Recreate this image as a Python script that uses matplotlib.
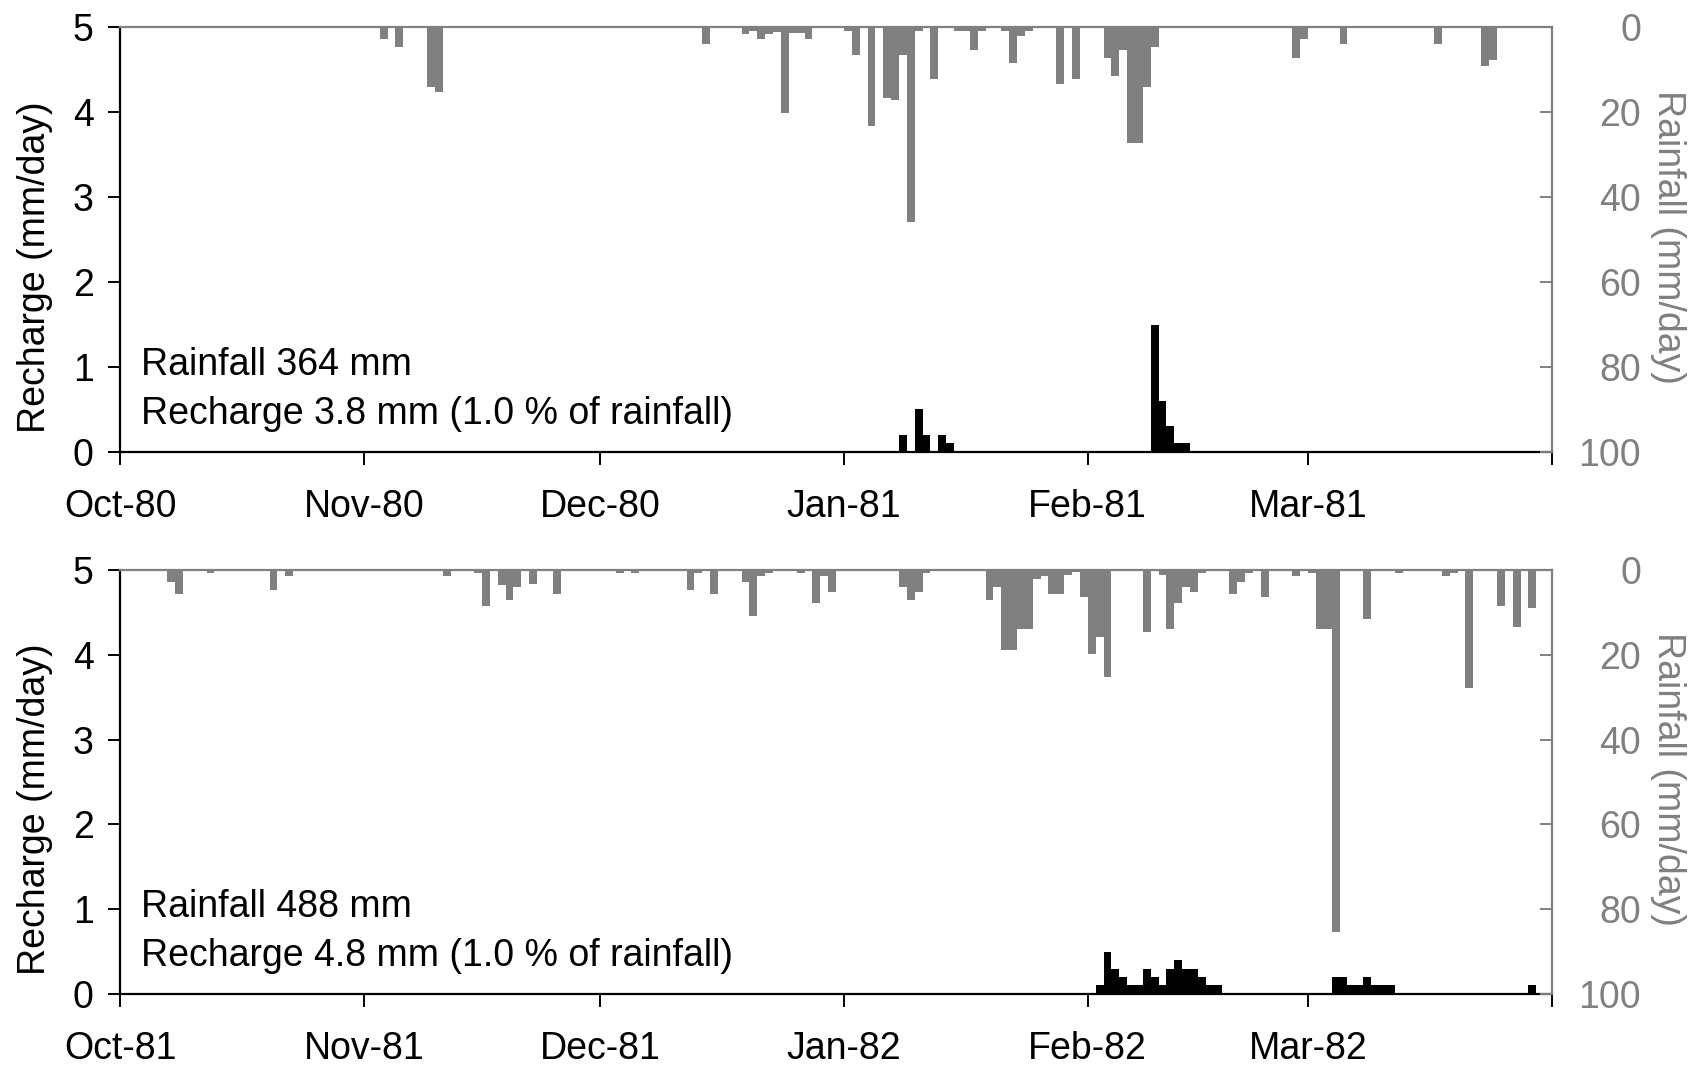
import numpy as np
import pandas as pd
import matplotlib
matplotlib.use("Agg")
import matplotlib.pyplot as plt

plt.rcParams['font.family'] = ['Liberation Sans', 'DejaVu Sans']
plt.rcParams['font.size'] = 27

GREY = "#808080"

# ---- season 1980-81 ----
rain_dates_1 = ["1980-11-03", "1980-11-05", "1980-11-09", "1980-11-10",
                "1980-12-14", "1980-12-19", "1980-12-20", "1980-12-21", "1980-12-22",
                "1980-12-23", "1980-12-24", "1980-12-25", "1980-12-26", "1980-12-27",
                "1981-01-01", "1981-01-02", "1981-01-04", "1981-01-06", "1981-01-07",
                "1981-01-08", "1981-01-09", "1981-01-10", "1981-01-12", "1981-01-15",
                "1981-01-16", "1981-01-17", "1981-01-18", "1981-01-21", "1981-01-22",
                "1981-01-23", "1981-01-24", "1981-01-28", "1981-01-30",
                "1981-02-03", "1981-02-04", "1981-02-05", "1981-02-06", "1981-02-07",
                "1981-02-08", "1981-02-09", "1981-02-27", "1981-02-28",
                "1981-03-05", "1981-03-17", "1981-03-23", "1981-03-24"]
rain_mm_1 = [2.7, 4.7, 14.1, 15.4,
             4.1, 1.6, 1.0, 2.8, 1.6,
             1.2, 20.3, 1.3, 1.3, 2.8,
             0.9, 6.5, 23.4, 16.6, 17.2,
             6.5, 45.9, 0.9, 12.3, 0.9,
             0.9, 5.3, 0.9, 0.9, 8.4,
             2.2, 0.9, 13.5, 12.3,
             7.2, 11.6, 5.3, 27.2, 27.2,
             14.1, 4.7, 7.2, 2.8,
             4.1, 4.1, 9.1, 7.8]
rech_dates_1 = ["1981-01-08", "1981-01-10", "1981-01-11", "1981-01-13", "1981-01-14",
                "1981-02-09", "1981-02-10", "1981-02-11", "1981-02-12", "1981-02-13"]
rech_mm_1 = [0.2, 0.5, 0.2, 0.2, 0.1,
             1.5, 0.6, 0.3, 0.1, 0.1]

# ---- season 1981-82 ----
rain_dates_2 = ["1981-10-07", "1981-10-08", "1981-10-12", "1981-10-20", "1981-10-22",
                "1981-11-11", "1981-11-15", "1981-11-16", "1981-11-18", "1981-11-19",
                "1981-11-20", "1981-11-22", "1981-11-25",
                "1981-12-03", "1981-12-05", "1981-12-12", "1981-12-13", "1981-12-15",
                "1981-12-19", "1981-12-20", "1981-12-21", "1981-12-22", "1981-12-26",
                "1981-12-28", "1981-12-29", "1981-12-30",
                "1982-01-08", "1982-01-09", "1982-01-10", "1982-01-11", "1982-01-19",
                "1982-01-20", "1982-01-21", "1982-01-22", "1982-01-23", "1982-01-24",
                "1982-01-25", "1982-01-26", "1982-01-27", "1982-01-28", "1982-01-29",
                "1982-01-30", "1982-01-31",
                "1982-02-01", "1982-02-02", "1982-02-03", "1982-02-08", "1982-02-10",
                "1982-02-11", "1982-02-12", "1982-02-13", "1982-02-14", "1982-02-15",
                "1982-02-19", "1982-02-20", "1982-02-21", "1982-02-23", "1982-02-27",
                "1982-03-01", "1982-03-02", "1982-03-03", "1982-03-04", "1982-03-08",
                "1982-03-12", "1982-03-18", "1982-03-19", "1982-03-21", "1982-03-25",
                "1982-03-27", "1982-03-29"]
rain_mm_2 = [2.8, 5.7, 0.8, 4.6, 1.4,
             1.4, 0.8, 8.4, 3.4, 7.1,
             3.9, 3.3, 5.7,
             0.8, 0.8, 4.6, 0.6, 5.7,
             2.8, 10.8, 1.4, 0.8, 0.8,
             7.7, 1.4, 5.2,
             3.9, 7.1, 5.2, 0.6, 7.1,
             3.9, 18.9, 18.9, 14.0, 14.0,
             2.0, 1.4, 5.7, 5.7, 1.2,
             0.4, 6.4,
             19.7, 15.9, 25.3, 14.7, 1.2,
             14.0, 7.7, 3.9, 5.2, 0.8,
             5.7, 2.8, 0.8, 6.4, 1.4,
             0.8, 14.0, 14.0, 85.3, 11.6,
             0.8, 1.4, 0.8, 27.9, 8.4,
             13.4, 9.0]
rech_dates_2 = ["1982-02-02", "1982-02-03", "1982-02-04", "1982-02-05", "1982-02-06",
                "1982-02-07", "1982-02-08", "1982-02-09", "1982-02-10", "1982-02-11",
                "1982-02-12", "1982-02-13", "1982-02-14", "1982-02-15", "1982-02-16",
                "1982-02-17",
                "1982-03-04", "1982-03-05", "1982-03-06", "1982-03-07", "1982-03-08",
                "1982-03-09", "1982-03-10", "1982-03-11", "1982-03-29"]
rech_mm_2 = [0.1, 0.5, 0.3, 0.2, 0.1,
             0.1, 0.3, 0.2, 0.1, 0.3,
             0.4, 0.3, 0.3, 0.2, 0.1,
             0.1,
             0.2, 0.2, 0.1, 0.1, 0.2,
             0.1, 0.1, 0.1, 0.1]

season_starts = ["1980-10-01", "1981-10-01"]
rain_totals = [364, 488]
rech_totals = [3.8, 4.8]

panels = [
    (rain_dates_1, rain_mm_1, rech_dates_1, rech_mm_1),
    (rain_dates_2, rain_mm_2, rech_dates_2, rech_mm_2),
]

fig = plt.figure(figsize=(16.96, 10.65), dpi=100)
positions = [[0.0708, 0.5756, 0.8443, 0.399],
             [0.0708, 0.0667, 0.8443, 0.398]]

for i, (rd, rmm, cd, cmm) in enumerate(panels):
    ax = fig.add_axes(positions[i])
    ax2 = ax.twinx()

    start = pd.Timestamp(season_starts[i])
    months = pd.date_range(start, periods=7, freq="MS")

    ax.bar(pd.to_datetime(cd), cmm, width=1, align="edge", color="black", zorder=3)
    ax2.bar(pd.to_datetime(rd), rmm, width=1, align="edge", color=GREY)

    ax.set_xlim(months[0], months[-1])
    ax.set_ylim(0, 5)
    ax2.set_ylim(100, 0)

    ax.set_xticks(months)
    ax.set_xticklabels([m.strftime("%b-%y") for m in months[:-1]] + [""])
    ax.set_yticks(range(0, 6))
    ax2.set_yticks(range(0, 101, 20))

    for s in ["top", "right"]:
        ax.spines[s].set_visible(False)
    for s in ["left", "bottom"]:
        ax2.spines[s].set_visible(False)
    ax.spines["left"].set_linewidth(1.6)
    ax.spines["bottom"].set_linewidth(1.6)
    ax2.spines["top"].set_color(GREY)
    ax2.spines["right"].set_color(GREY)
    ax2.spines["top"].set_linewidth(1.6)
    ax2.spines["right"].set_linewidth(1.6)

    ax.tick_params(axis="x", direction="out", length=9, width=1.4, pad=18, labelsize=27)
    ax.tick_params(axis="y", direction="out", length=9, width=1.4, pad=10, labelsize=27)
    ax2.tick_params(axis="y", direction="in", length=9, width=1.4, color=GREY,
                    labelcolor=GREY, pad=64, labelsize=27)
    for lab in ax2.get_yticklabels():
        lab.set_horizontalalignment("right")

    ax.set_ylabel("Recharge (mm/day)", fontsize=27)
    ax.yaxis.set_label_coords(-0.047, 0.435)
    ax2.set_ylabel("Rainfall (mm/day)", fontsize=27, color=GREY, rotation=270,
                   va="center")
    ax2.yaxis.set_label_coords(1.081, 0.506)

    ax.text(0.0144, 0.204, f"Rainfall {rain_totals[i]} mm", transform=ax.transAxes,
            ha="left", va="center", fontsize=27)
    pct = rech_totals[i] / rain_totals[i] * 100
    ax.text(0.0144, 0.089, f"Recharge {rech_totals[i]} mm ({pct:.1f} % of rainfall)",
            transform=ax.transAxes, ha="left", va="center", fontsize=27)

fig.savefig("out.png", dpi=100)
